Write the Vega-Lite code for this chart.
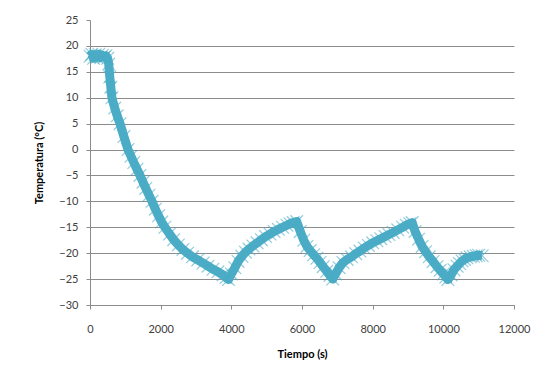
{
  "$schema": "https://vega.github.io/schema/vega-lite/v6.json",
  "width": 424,
  "height": 285,
  "autosize": {"type": "none"},
  "padding": {"left": 90, "top": 20, "right": 19, "bottom": 70},
  "background": "white",
  "config": {
    "view": {"stroke": null},
    "font": "Lato",
    "axis": {
      "labelFont": "Lato",
      "labelFontSize": 11,
      "labelColor": "#404040",
      "titleFont": "Lato",
      "titleFontSize": 11,
      "titleFontWeight": "bold",
      "titleColor": "#000000",
      "domainColor": "#8c8c8c",
      "tickColor": "#8c8c8c",
      "gridColor": "#8c8c8c",
      "tickSize": 4
    }
  },
  "data": {
    "values": [
      {"t": 0, "temp": 18.0}, {"t": 50, "temp": 18.4}, {"t": 100, "temp": 17.6}, {"t": 150, "temp": 18.3},
      {"t": 200, "temp": 17.8}, {"t": 250, "temp": 18.4}, {"t": 300, "temp": 17.7}, {"t": 350, "temp": 18.2},
      {"t": 400, "temp": 17.8}, {"t": 450, "temp": 18.1}, {"t": 500, "temp": 17.6}, {"t": 530, "temp": 16.5},
      {"t": 560, "temp": 14.0}, {"t": 590, "temp": 12.0}, {"t": 620, "temp": 10.0}, {"t": 700, "temp": 8.0}, {"t": 770, "temp": 6.5}, {"t": 850, "temp": 5.0},
      {"t": 960, "temp": 2.5}, {"t": 1075, "temp": 0.0}, {"t": 1160, "temp": -1.3}, {"t": 1240, "temp": -2.5}, {"t": 1330, "temp": -3.8}, {"t": 1415, "temp": -5.0},
      {"t": 1500, "temp": -6.3}, {"t": 1580, "temp": -7.5}, {"t": 1670, "temp": -8.8}, {"t": 1755, "temp": -10.0}, {"t": 1850, "temp": -11.5}, {"t": 1940, "temp": -12.8}, {"t": 2030, "temp": -14.0}, {"t": 2120, "temp": -15.0},
      {"t": 2250, "temp": -16.3}, {"t": 2370, "temp": -17.4}, {"t": 2500, "temp": -18.4}, {"t": 2630, "temp": -19.3}, {"t": 2760, "temp": -20.0}, {"t": 2900, "temp": -20.7}, {"t": 3050, "temp": -21.3}, {"t": 3200, "temp": -21.9},
      {"t": 3340, "temp": -22.5}, {"t": 3480, "temp": -23.1}, {"t": 3620, "temp": -23.6}, {"t": 3765, "temp": -24.2}, {"t": 3850, "temp": -24.7}, {"t": 3920, "temp": -25.1}, {"t": 4000, "temp": -24.0},
      {"t": 4100, "temp": -22.8}, {"t": 4190, "temp": -21.6}, {"t": 4300, "temp": -20.6}, {"t": 4400, "temp": -19.8}, {"t": 4500, "temp": -19.2}, {"t": 4610, "temp": -18.6},
      {"t": 4730, "temp": -18.0}, {"t": 4850, "temp": -17.4}, {"t": 4970, "temp": -16.8}, {"t": 5095, "temp": -16.3}, {"t": 5210, "temp": -15.8}, {"t": 5330, "temp": -15.4}, {"t": 5450, "temp": -15.0}, {"t": 5575, "temp": -14.6},
      {"t": 5660, "temp": -14.3}, {"t": 5750, "temp": -14.1}, {"t": 5850, "temp": -13.9}, {"t": 5950, "temp": -15.8}, {"t": 6050, "temp": -17.5},
      {"t": 6140, "temp": -18.7}, {"t": 6230, "temp": -19.5}, {"t": 6330, "temp": -20.3}, {"t": 6420, "temp": -21.0}, {"t": 6510, "temp": -21.8}, {"t": 6600, "temp": -22.6}, {"t": 6700, "temp": -23.5}, {"t": 6790, "temp": -24.3},
      {"t": 6870, "temp": -25.0}, {"t": 6950, "temp": -24.0}, {"t": 7050, "temp": -22.8}, {"t": 7160, "temp": -21.8},
      {"t": 7280, "temp": -21.2}, {"t": 7400, "temp": -20.7}, {"t": 7520, "temp": -20.1}, {"t": 7640, "temp": -19.6}, {"t": 7760, "temp": -19.0}, {"t": 7880, "temp": -18.5}, {"t": 8000, "temp": -18.0}, {"t": 8120, "temp": -17.6},
      {"t": 8230, "temp": -17.2}, {"t": 8350, "temp": -16.8}, {"t": 8460, "temp": -16.4}, {"t": 8580, "temp": -16.0}, {"t": 8710, "temp": -15.5}, {"t": 8850, "temp": -15.0}, {"t": 8950, "temp": -14.6}, {"t": 9050, "temp": -14.3},
      {"t": 9120, "temp": -14.1}, {"t": 9200, "temp": -15.8}, {"t": 9300, "temp": -17.3}, {"t": 9400, "temp": -18.7},
      {"t": 9500, "temp": -19.7}, {"t": 9600, "temp": -20.7}, {"t": 9710, "temp": -21.6}, {"t": 9820, "temp": -22.6}, {"t": 9910, "temp": -23.3}, {"t": 10000, "temp": -24.0}, {"t": 10070, "temp": -24.6}, {"t": 10130, "temp": -25.1},
      {"t": 10220, "temp": -24.2}, {"t": 10300, "temp": -23.2}, {"t": 10390, "temp": -22.5}, {"t": 10460, "temp": -22.0}, {"t": 10530, "temp": -21.5}, {"t": 10600, "temp": -21.2},
      {"t": 10670, "temp": -20.9}, {"t": 10760, "temp": -20.7}, {"t": 10850, "temp": -20.6}, {"t": 10930, "temp": -20.5}, {"t": 11000, "temp": -20.4}, {"t": 11100, "temp": -20.5}
    ]
  },
  "encoding": {
    "x": {
      "field": "t", "type": "quantitative", "title": "Tiempo (s)",
      "scale": {"domain": [0, 12000], "nice": false, "zero": false},
      "axis": {"values": [0, 2000, 4000, 6000, 8000, 10000, 12000], "grid": false, "format": "d", "labelPadding": 14, "titlePadding": 14, "labelFlush": false}
    },
    "y": {
      "field": "temp", "type": "quantitative", "title": "Temperatura (°C)",
      "scale": {"domain": [-30, 25], "nice": false, "zero": false},
      "axis": {
        "values": [-30, -25, -20, -15, -10, -5, 0, 5, 10, 15, 20, 25],
        "grid": true,
        "gridColor": {"condition": {"test": "datum.value === 25", "value": "rgba(0,0,0,0)"}, "value": "#8c8c8c"},
        "labelPadding": 8, "titlePadding": 14, "labelFlush": false
      }
    }
  },
  "layer": [
    {"mark": {"type": "line", "color": "#4bacc6", "strokeWidth": 9, "strokeJoin": "round", "strokeCap": "butt"}},
    {"mark": {"type": "point", "shape": "M-1,-1L1,1M-1,1L1,-1", "size": 160, "filled": false, "strokeWidth": 1.2, "color": "#4bacc6", "opacity": 0.6}}
  ]
}
